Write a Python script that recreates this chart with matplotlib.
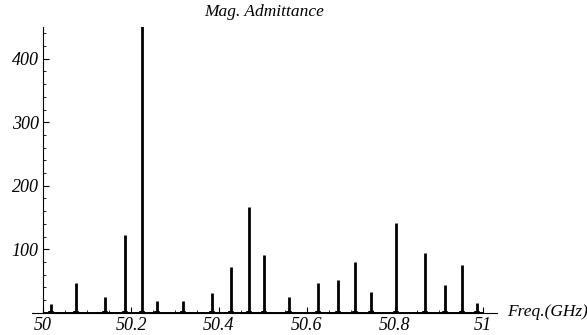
import matplotlib
matplotlib.use("Agg")
import matplotlib.pyplot as plt
from matplotlib.ticker import MultipleLocator, FixedLocator

# resonance peaks
freqs = [50.018, 50.074, 50.142, 50.186, 50.226, 50.260, 50.318, 50.384,
         50.428, 50.468, 50.502, 50.560, 50.626, 50.670, 50.710, 50.745,
         50.802, 50.869, 50.913, 50.952, 50.986]
mags = [14, 47, 24, 122, 520, 19, 18, 31.5,
        72, 167, 91, 24, 47, 51.5, 79.5, 33,
        141, 94.6, 43, 75, 15]

xticks = [50, 50.2, 50.4, 50.6, 50.8, 51]
xticklabels = ["50", "50.2", "50.4", "50.6", "50.8", "51"]
yticks = [100, 200, 300, 400]
yticklabels = ["100", "200", "300", "400"]

plt.rcParams['font.family'] = ['Liberation Serif', 'DejaVu Serif']
plt.rcParams['font.style'] = 'italic'

W, H = 587, 335
fig = plt.figure(figsize=(W / 100, H / 100), dpi=100)
ax = fig.add_axes([32 / W, 22.3 / H, (497 - 32) / W, (312.7 - 27) / H])

ax.vlines(freqs, 0, mags, color='black', lw=2.0)
# the curve flares a little at the foot of each resonance
ax.vlines(freqs, 0, 3, color='black', lw=4.0)
ax.hlines(0, xticks[0], xticks[-1], color='black', lw=1.4)

ax.set_xlim(49.975, 51.032)
ax.set_ylim(0, 450)

for s in ['top', 'right']:
    ax.spines[s].set_visible(False)
ax.spines['left'].set_position(('data', 50))
ax.spines['bottom'].set_position(('data', 0))
ax.spines['left'].set_linewidth(0.8)
ax.spines['bottom'].set_linewidth(0.8)

ax.xaxis.set_major_locator(FixedLocator(xticks))
ax.set_xticklabels(xticklabels)
ax.xaxis.set_minor_locator(MultipleLocator(0.05))
ax.yaxis.set_major_locator(FixedLocator(yticks))
ax.set_yticklabels(yticklabels)
ax.yaxis.set_minor_locator(MultipleLocator(20))

ax.tick_params(which='major', direction='in', length=4, width=0.8,
               labelsize=13, pad=3)
ax.tick_params(which='minor', direction='in', length=2.5, width=0.6)

fig.text(264 / W, 1 - 12.5 / H, 'Mag. Admittance', ha='center', va='center',
         fontsize=12.5)
fig.text(507 / W, 1 - 312 / H, 'Freq.(GHz)', ha='left', va='center',
         fontsize=12.5)

fig.savefig('out.png', dpi=100)
